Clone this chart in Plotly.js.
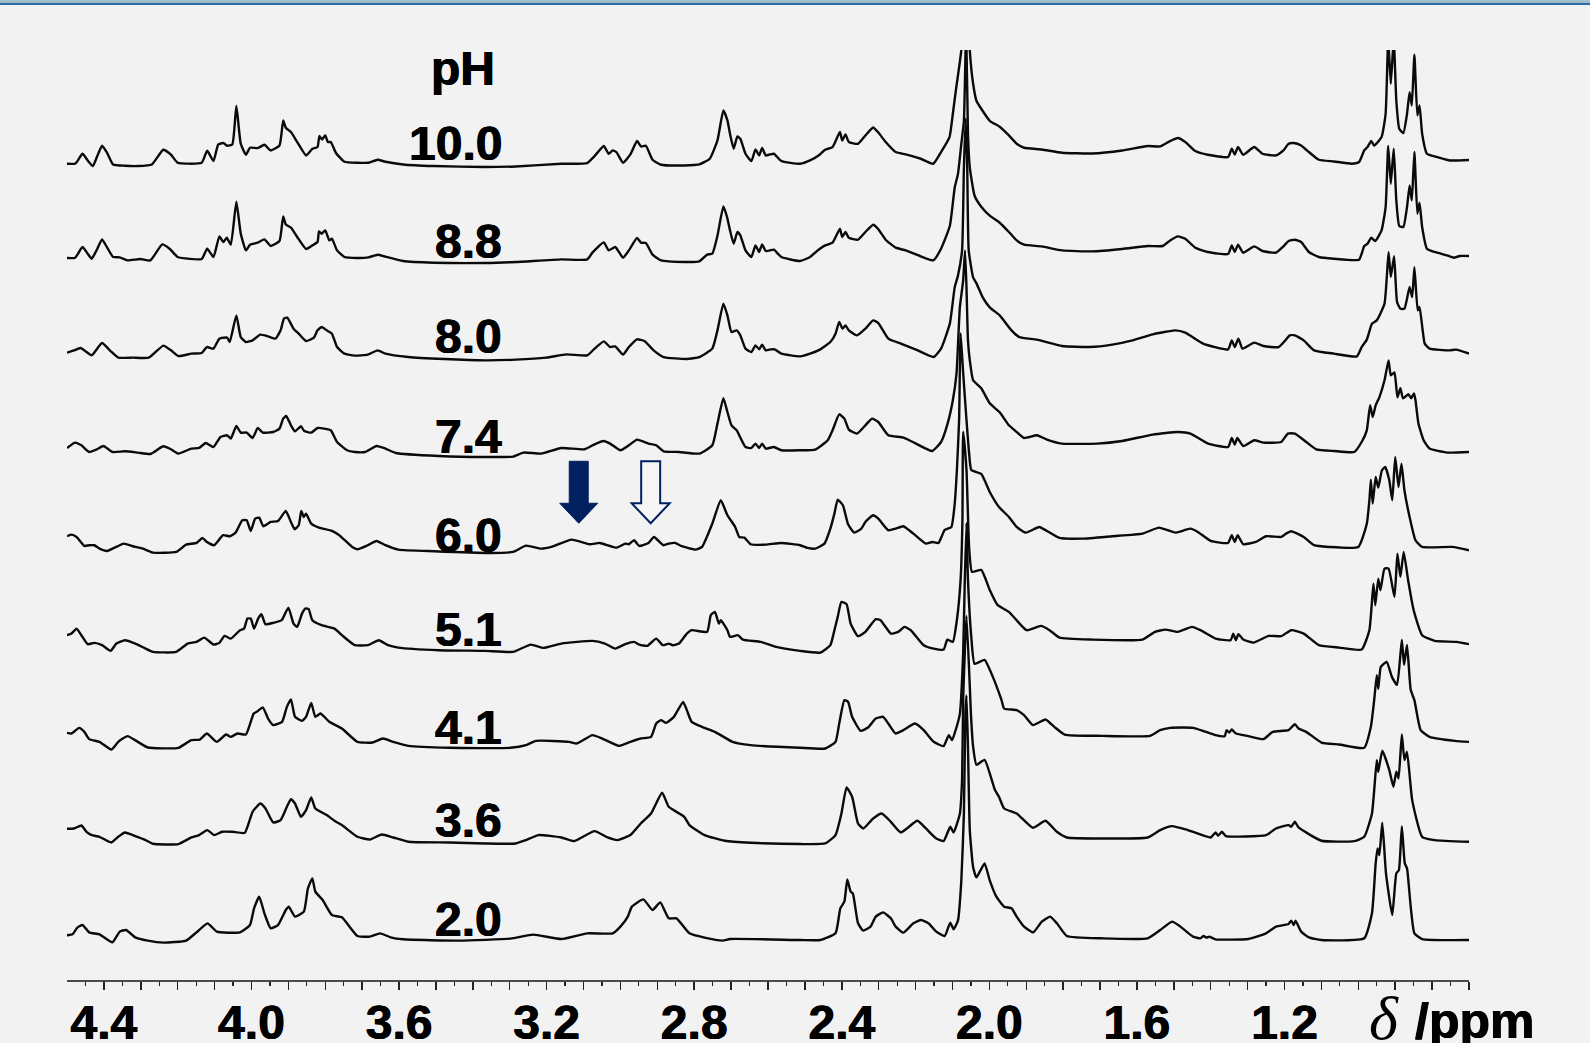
<!DOCTYPE html>
<html>
<head>
<meta charset="utf-8">
<script src="https://cdn.plot.ly/plotly-3.0.1.min.js"></script>
<style>
html,body{margin:0;padding:0;background:#f2f2f2;overflow:hidden}
#bar{position:absolute;left:0;top:0;width:1590px;height:5px;background:linear-gradient(to bottom,#a3c0ce 0,#9bbccb 55%,#2f6ba8 62%,#2f6ba8 100%);z-index:5}
#chart{position:absolute;left:0;top:0;width:1590px;height:1043px}
</style>
</head>
<body>
<div id="bar"></div>
<div id="chart"></div>
<script>
const phLabels = ['10.0','8.8','8.0','7.4','6.0','5.1','4.1','3.6','2.0'];
const offsets = [816.7,721.7,624,530,433.3,333.3,233.3,138.3,40.7];
const labelBase = [820,722,627,527,428,334,236,143,44];
const majorTicks = [4.4,4.3,4.2,4.1,4.0,3.9,3.8,3.7,3.6,3.5,3.4,3.3,3.2,3.1,3.0,2.9,2.8,2.7,2.6,2.5,2.4,2.3,2.2,2.1,2.0,1.9,1.8,1.7,1.6,1.5,1.4,1.3,1.2,1.1,1.0,0.9,0.8,0.7];
const minorTicks = [4.45,4.35,4.25,4.15,4.05,3.95,3.85,3.75,3.65,3.55,3.45,3.35,3.25,3.15,3.05,2.95,2.85,2.75,2.65,2.55,2.45,2.35,2.25,2.15,2.05,1.95,1.85,1.75,1.65,1.55,1.45,1.35,1.25,1.15,1.05,0.95,0.85,0.75];
const labelledTicks = ['4.4','4.0','3.6','3.2','2.8','2.4','2.0','1.6','1.2'];

const ppm_100 = [4.50,4.477,4.458,4.444,4.43,4.419,4.405,4.391,4.375,4.343,4.308,4.27,4.239,4.218,4.2,4.135,4.12,4.103,4.09,4.076,4.066,4.052,4.041,4.029,4.015,4.004,3.983,3.965,3.948,3.924,3.914,3.907,3.893,3.876,3.852,3.835,3.821,3.816,3.809,3.80,3.793,3.785,3.771,3.748,3.713,3.683,3.658,3.637,3.589,3.506,3.367,3.284,3.16,3.09,3.07,3.045,3.032,3.021,3.011,2.993,2.973,2.955,2.944,2.931,2.913,2.89,2.827,2.786,2.758,2.737,2.721,2.71,2.703,2.693,2.683,2.675,2.661,2.645,2.634,2.624,2.616,2.606,2.595,2.584,2.564,2.513,2.486,2.463,2.445,2.425,2.405,2.399,2.39,2.381,2.356,2.336,2.315,2.302,2.281,2.254,2.227,2.186,2.152,2.131,2.108,2.099,2.091,2.086,2.076,2.064,2.053,2.044,2.035,2.022,1.999,1.972,1.947,1.926,1.906,1.858,1.803,1.722,1.64,1.571,1.537,1.51,1.489,1.469,1.442,1.408,1.353,1.343,1.335,1.326,1.312,1.282,1.26,1.223,1.203,1.189,1.175,1.155,1.134,1.107,1.066,1.018,0.998,0.984,0.975,0.965,0.957,0.937,0.926,0.919,0.912,0.904,0.897,0.889,0.878,0.868,0.861,0.855,0.848,0.84,0.834,0.827,0.814,0.793,0.752,0.70];
const int_100 = [0,0.3,10,3.3,-2.3,6.7,18,10.7,-0.7,-2,-2.3,-0.7,14,9,1,1,13,2.7,19.3,20.7,18,19.3,57.7,20,9,16,15.7,19,13.3,18.3,43.3,36,31.7,21.7,8.3,15,16.7,27.7,24.3,28.3,21.7,21.7,10.7,2,1,1,4,2,-0.7,-2.3,-3.3,-2.7,0,0.7,7.7,17.7,10,13.3,11.7,1,9.3,22.7,17.3,18,4,-1,-1.7,-0.7,5,23.3,53.3,43.3,30,15,27.3,25,10,2.7,14.3,8.3,15.7,8.3,9.3,10,2.7,0,3.3,8.3,14,16.7,31.7,23.3,29.3,21.7,20,28.3,36.3,31.7,21.7,11.7,9.3,5,0,11.7,26.7,50,73,86,114,230,113,80,63,55,43,37,28.3,20,16,14.3,11,10.3,13.3,17.7,17.3,22.7,25.7,21.7,12.7,9,6.7,15,9.3,16.7,9,16.7,10,8.3,13.3,20,20.7,18.3,11.7,4,2.3,0,1.7,13.3,16.7,22.7,18.3,26.7,50,125,80,125,63,35,30.7,50,71.7,58.3,109,48.3,58.3,30,10,7.3,3.3,3.7];

const ppm_88 = [4.50,4.478,4.458,4.444,4.433,4.42,4.405,4.391,4.375,4.357,4.336,4.301,4.274,4.242,4.222,4.2,4.135,4.12,4.103,4.087,4.076,4.067,4.056,4.041,4.029,4.015,4.004,3.983,3.965,3.948,3.924,3.914,3.907,3.893,3.876,3.852,3.835,3.821,3.817,3.81,3.80,3.789,3.782,3.768,3.748,3.713,3.683,3.658,3.637,3.589,3.506,3.367,3.284,3.16,3.09,3.076,3.045,3.032,3.014,2.993,2.977,2.955,2.944,2.931,2.913,2.89,2.827,2.786,2.765,2.751,2.737,2.721,2.711,2.703,2.693,2.683,2.675,2.661,2.645,2.634,2.624,2.616,2.606,2.595,2.584,2.564,2.513,2.486,2.463,2.445,2.425,2.405,2.399,2.39,2.381,2.356,2.336,2.315,2.302,2.281,2.254,2.227,2.186,2.152,2.131,2.107,2.094,2.085,2.076,2.069,2.063,2.058,2.053,2.04,2.022,1.999,1.972,1.947,1.926,1.906,1.858,1.803,1.722,1.64,1.571,1.53,1.51,1.489,1.469,1.442,1.408,1.353,1.343,1.335,1.326,1.312,1.282,1.26,1.223,1.203,1.189,1.172,1.155,1.134,1.107,1.066,0.998,0.984,0.975,0.965,0.954,0.937,0.926,0.919,0.912,0.904,0.897,0.889,0.878,0.868,0.861,0.855,0.848,0.84,0.834,0.827,0.814,0.793,0.759,0.741,0.725,0.70];
const int_88 = [0.7,1,11.7,5,0,8.3,19.3,11,1.7,1.3,-1.7,-0.3,-1.7,14.3,10,1.7,-0.3,10,1.7,22.3,16.7,21,14,57,25,8.3,14,16,19.3,12.7,17.7,42.3,34.3,31,21.7,9.7,13.3,16.7,27.3,25,28.3,18.3,20,8.3,1.7,0.7,1.3,4,2,-2.3,-4,-4.3,-3.3,-0.7,-0.7,6,16.3,8.3,11.7,1,8.3,20.7,16,15.7,4,-1.7,-3.3,-2.7,4,5,23,52.3,41.7,28.3,15,26.7,23.3,8.3,1.7,13.3,6.7,14.3,7.7,8.3,9,1.7,-2.3,1.7,9,13.3,16,30,21.7,26.7,21,19,26.7,34,30,19,11,8.3,2.3,-1.7,10,33,71,85,115,138,230,125,91,63,52,43,36,26.7,18.3,14,12.3,8.3,7.3,9.7,12.7,12.7,18.3,22.3,20,11,6.7,4.7,13.3,6.7,14,6,12.3,7.7,6,12.3,17.7,19,16.7,6.7,1.7,0,-1,12.7,15,21,17.7,28.3,51.7,112.7,75,110,58.3,32.7,31.7,51.7,73.3,58.3,106.7,45,56,31.7,10,6.7,3.3,1,2.7,2.7];

const ppm_80 = [4.50,4.481,4.463,4.447,4.433,4.405,4.384,4.361,4.322,4.278,4.239,4.218,4.198,4.163,4.135,4.121,4.103,4.087,4.066,4.059,4.041,4.029,4.015,3.997,3.976,3.955,3.935,3.921,3.912,3.903,3.886,3.872,3.852,3.831,3.821,3.81,3.796,3.782,3.768,3.748,3.72,3.685,3.658,3.637,3.575,3.478,3.367,3.284,3.201,3.146,3.09,3.07,3.045,3.028,3.014,2.993,2.977,2.955,2.935,2.91,2.883,2.82,2.786,2.751,2.737,2.721,2.71,2.699,2.685,2.675,2.661,2.645,2.634,2.624,2.616,2.606,2.592,2.582,2.564,2.513,2.486,2.458,2.431,2.417,2.407,2.398,2.39,2.381,2.359,2.336,2.315,2.301,2.274,2.24,2.199,2.151,2.131,2.107,2.094,2.085,2.074,2.069,2.064,2.06,2.056,2.044,2.035,2.018,1.999,1.972,1.94,1.919,1.871,1.803,1.728,1.667,1.612,1.557,1.496,1.469,1.421,1.353,1.343,1.335,1.325,1.314,1.282,1.257,1.216,1.196,1.186,1.172,1.148,1.12,1.066,1.004,0.991,0.977,0.963,0.95,0.929,0.918,0.912,0.903,0.895,0.886,0.875,0.861,0.854,0.848,0.839,0.834,0.82,0.807,0.752,0.735,0.70];
const int_80 = [3.7,6,8.3,4.3,1,13.3,6,-1.3,-1.3,-1.3,10.7,6,0.3,2.7,3.3,9.3,7.7,17.7,18.7,14.3,41,19.3,14.3,16,21.7,20,17.7,26,37.7,38.7,27.7,22.7,15.3,18.7,26,29.3,26,22.7,9.3,2.7,0.7,1.7,6,2.7,-0.7,-2.7,-4,-3.3,-1.3,2,1,7.7,15,9.3,10,1.7,9.3,17,15.3,6,-0.7,-2.7,-0.7,7.7,26,52.7,41,24.3,26,21,7.7,4.3,11,7,11.7,6,7,7,2.7,0,2.7,7,14.3,22.7,34.3,27.7,31,26,21,27.7,36,33.3,17.7,12.7,6.7,-0.7,7.7,33,69,81,106,189,238,189,106,79,73,59,49,41,26,19.3,16.7,10.3,9.3,11.7,16,22,26,23.7,12.7,7,16,9.3,17.7,7.7,13.7,10.3,9.3,16.7,21,21,16,6,2.7,0,9.3,16.7,32.7,36,52.7,104.3,79.3,100.3,54.3,47.7,47.7,69.3,59.3,89.3,46,49.3,12.7,7.7,6,6.7,2.7];

const ppm_74 = [4.50,4.478,4.461,4.44,4.419,4.401,4.377,4.343,4.308,4.274,4.239,4.218,4.198,4.163,4.142,4.124,4.103,4.084,4.066,4.056,4.041,4.029,4.013,3.997,3.983,3.969,3.941,3.924,3.914,3.906,3.893,3.882,3.866,3.857,3.838,3.821,3.803,3.785,3.768,3.741,3.72,3.692,3.661,3.637,3.609,3.492,3.367,3.291,3.263,3.215,3.16,3.097,3.07,3.046,3.028,3,2.977,2.955,2.924,2.903,2.883,2.841,2.786,2.751,2.737,2.721,2.71,2.699,2.685,2.661,2.645,2.634,2.624,2.616,2.606,2.584,2.564,2.513,2.472,2.438,2.425,2.407,2.393,2.381,2.359,2.336,2.318,2.301,2.274,2.233,2.199,2.155,2.131,2.113,2.099,2.089,2.08,2.071,2.066,2.062,2.058,2.053,2.044,2.022,1.999,1.972,1.947,1.926,1.906,1.871,1.844,1.803,1.708,1.64,1.557,1.489,1.455,1.407,1.353,1.343,1.335,1.328,1.312,1.282,1.257,1.209,1.191,1.172,1.141,1.114,1.066,1.011,0.991,0.977,0.968,0.961,0.953,0.943,0.929,0.918,0.912,0.902,0.894,0.886,0.879,0.864,0.857,0.849,0.845,0.837,0.823,0.807,0.759,0.70];
const int_74 = [2.3,7.7,5,-1.7,1,4.3,-1.7,-1,-2.3,-3.7,4,1,-3.3,1.7,2.3,7.3,3.3,13.3,15,11.7,24.3,17.7,17.7,12.3,22.3,17.7,18.3,21.7,31.7,34.3,25,19,24,19.3,17.7,22.3,21.7,20,8.3,0,-1.7,-1.7,4.3,1.7,-2.7,-5.7,-6.7,-6.3,-2.3,-3.3,2.3,1,6,9.3,6.7,0,5,10.7,6.7,5,-1,-1.7,-3.3,5,26.7,52,38.3,25,20,3.3,2.3,6.7,2.3,6.7,1.7,3.3,0,0,0.7,10,20,36,31.7,20.7,16.7,25,31.7,28.3,15,12.7,6.7,-0.7,8.3,27,50,77,143,170,200,163,110,90,70,62,47,38,25,18.3,12.3,15,10.7,6.7,6.7,9.3,15.7,18.3,16.7,6.7,3.3,12.3,5.7,12.3,4.3,10,7.7,8.3,16.7,16.7,8.3,1,-0.7,-1.7,8.3,20,45,33.3,45,53,70,90,75,78,53,62,52,56,52,57,50,26.7,10,1.7,-2.3,-1.7];

const ppm_60 = [4.50,4.488,4.474,4.453,4.44,4.426,4.412,4.391,4.371,4.346,4.322,4.294,4.267,4.204,4.177,4.149,4.133,4.121,4.101,4.077,4.059,4.043,4.025,4.013,4.002,3.99,3.979,3.968,3.948,3.928,3.907,3.893,3.883,3.872,3.865,3.858,3.852,3.838,3.817,3.782,3.762,3.727,3.713,3.685,3.661,3.637,3.602,3.506,3.353,3.291,3.256,3.215,3.187,3.132,3.083,3.056,3.01,2.987,2.977,2.963,2.949,2.924,2.909,2.894,2.883,2.869,2.852,2.834,2.797,2.779,2.751,2.728,2.71,2.689,2.678,2.664,2.647,2.606,2.564,2.513,2.493,2.472,2.447,2.431,2.42,2.411,2.397,2.383,2.366,2.347,2.336,2.315,2.301,2.274,2.254,2.233,2.206,2.172,2.155,2.138,2.121,2.103,2.094,2.088,2.082,2.078,2.071,2.062,2.055,2.049,2.022,1.999,1.974,1.947,1.926,1.901,1.865,1.844,1.81,1.748,1.667,1.585,1.54,1.496,1.455,1.435,1.4,1.353,1.343,1.335,1.327,1.312,1.278,1.25,1.209,1.196,1.182,1.148,1.12,1.08,1.0,0.977,0.97,0.966,0.961,0.953,0.946,0.936,0.927,0.916,0.908,0.9,0.891,0.883,0.875,0.861,0.845,0.827,0.745,0.70];
const int_60 = [10.7,12.3,10,1,1.7,1.7,-1.7,-4,-0.7,3.3,0.7,-1.7,-5.7,-5,2.3,4,9,5,1.7,11.7,10.7,14.3,26.7,26.7,16,28.3,29.3,20.7,25,26,36,25,17.7,21.7,36,30,33.3,23.3,19.3,16,11.7,0,-2.3,1.7,6,1.7,-2.7,-4.3,-6,-5,1.3,-1.7,0,7.3,2.7,4,-0.7,3.3,2.7,6.7,1,4,10,5,1.7,3.3,4,0.7,-2.7,0,23.3,46.7,31.7,20,10,9.3,2.7,2.3,4,1.7,-1,-1.7,3.3,18.3,33.3,47.3,41.7,22.7,14.3,18.3,25,31.7,28.3,16.7,18.3,20.7,13.3,3.3,5,4,17,20,43,77,127,213.7,174,127,94,77,73,55,40,30,20,14.3,20,16,9,8.3,10.7,13.3,19.3,14.3,18.3,15,6,4,11.7,5,11.7,2.7,5,10.7,10,13.3,15.7,10,1.7,0,0,23.3,46.7,67.3,43.3,70,59.3,76.7,80,66.7,46.7,90,60,83.3,56.7,30,6.7,0,0,-3.3];

const ppm_51 = [4.50,4.488,4.474,4.461,4.444,4.426,4.405,4.382,4.366,4.343,4.315,4.287,4.267,4.204,4.173,4.149,4.128,4.103,4.087,4.073,4.056,4.031,4.02,4.011,4.002,3.993,3.982,3.973,3.962,3.941,3.918,3.9,3.886,3.876,3.863,3.854,3.845,3.835,3.81,3.775,3.755,3.72,3.685,3.655,3.63,3.602,3.492,3.367,3.291,3.243,3.208,3.16,3.076,3.042,3.014,2.987,2.963,2.949,2.927,2.903,2.885,2.869,2.858,2.841,2.82,2.807,2.765,2.755,2.744,2.733,2.728,2.71,2.703,2.682,2.668,2.62,2.578,2.513,2.458,2.431,2.42,2.411,2.401,2.387,2.376,2.356,2.336,2.308,2.295,2.267,2.247,2.23,2.213,2.178,2.151,2.124,2.114,2.099,2.088,2.078,2.073,2.071,2.062,2.055,2.047,2.022,1.999,1.978,1.947,1.899,1.86,1.837,1.81,1.721,1.585,1.551,1.523,1.489,1.451,1.428,1.387,1.346,1.339,1.332,1.325,1.312,1.284,1.243,1.209,1.182,1.148,1.107,1.052,0.991,0.97,0.959,0.954,0.946,0.94,0.929,0.918,0.902,0.894,0.886,0.877,0.865,0.85,0.827,0.793,0.734,0.70];
const int_51 = [11.7,13.3,18.3,11.7,2.7,4,1.7,-4,3.3,6.7,3.3,-1.7,-5,-5,3.3,5,9.3,2.3,4,11,8.3,16.7,18.3,28.3,28.3,18.3,28.3,32.7,22.7,24,26.7,39.3,23.3,20,33.3,38.3,37.7,26.7,21.7,18.3,11.7,1.7,1.7,6.7,1.7,-0.7,-3.3,-4,-5,2.3,-1,3.3,6,3.3,-1.7,2.7,5,2.3,1,8.3,1.7,3.3,1.7,3.3,13.3,16.7,15,31.7,35,23.3,26.7,16.7,10,11.7,7.3,5,0,-4,-5.7,1.7,16.7,30,45,42.7,23.3,10.7,15,27.7,26.7,13.3,15,20,16.7,1.7,-1.7,-2.7,7.3,5,27,67,127,215,177,100,75,77,57,42,35,16.7,21,16.7,9.3,7.3,7.3,15,17.3,15,20,16.7,8.3,6.7,13.3,6.7,12.7,7.3,4.3,11,10.7,16.7,13.3,1.7,-0.7,-2.7,16.7,63.3,41.7,68.3,56.7,78.3,78.3,50,93.3,70,95,66.7,36.7,11.7,6,5,2.7];

const ppm_41 = [4.50,4.488,4.467,4.453,4.44,4.412,4.38,4.361,4.336,4.308,4.281,4.198,4.163,4.14,4.121,4.094,4.069,4.056,4.038,4.015,3.994,3.986,3.969,3.955,3.941,3.917,3.904,3.893,3.882,3.863,3.852,3.838,3.827,3.813,3.789,3.755,3.713,3.672,3.644,3.616,3.575,3.464,3.298,3.256,3.229,3.139,3.118,3.076,3.049,3.004,2.973,2.945,2.917,2.903,2.89,2.876,2.855,2.83,2.82,2.807,2.779,2.744,2.696,2.647,2.513,2.445,2.417,2.407,2.393,2.383,2.372,2.349,2.329,2.308,2.288,2.274,2.254,2.233,2.202,2.178,2.151,2.124,2.11,2.101,2.094,2.08,2.071,2.067,2.062,2.058,2.049,2.04,2.013,1.994,1.967,1.96,1.926,1.906,1.882,1.848,1.824,1.796,1.694,1.564,1.537,1.51,1.448,1.421,1.387,1.362,1.357,1.35,1.343,1.332,1.298,1.257,1.232,1.189,1.172,1.162,1.141,1.1,1.052,0.984,0.966,0.957,0.95,0.946,0.939,0.923,0.909,0.895,0.882,0.876,0.868,0.858,0.848,0.831,0.807,0.738,0.70];
const int_41 = [14,13.3,19,15,7.7,5,-2.7,5,10.7,5,-0.7,-1,6.7,7.3,13.3,5,12.3,10,13.3,12.3,33.3,35,39.3,28.3,21.7,25,40,47.5,30,26,30,44,30,33.3,25,18.3,5,4.3,8.3,5,1,-1,-1,1.7,6,5,3.3,11.7,8.3,1,5,8.3,10,23.3,26.7,24,30,45,36.7,25,20,15,5,1.7,-1,-1.7,5,23.3,46.7,45,30,16,19.3,28.3,30,23.3,13.3,16.7,23.3,16.7,5,0.7,11.7,6.7,13.7,33,94,160,224,167,110,83,87,73,46.7,38.3,36.7,31.7,21.7,27.3,20,12.3,11,11,16.7,19,19,16,11.7,10.7,16.7,14.3,17.3,13.3,10.7,7.7,15,16.7,22.7,18.3,15,4.3,2.3,-1,20,46.7,71.7,58,80,85,70,62,107,82,102,57,46.7,16.7,10,6,5];

const ppm_36 = [4.50,4.481,4.461,4.447,4.433,4.412,4.38,4.361,4.343,4.315,4.287,4.267,4.198,4.163,4.142,4.12,4.101,4.08,4.052,4.018,3.997,3.976,3.962,3.941,3.921,3.904,3.893,3.882,3.866,3.852,3.838,3.827,3.796,3.775,3.755,3.713,3.679,3.647,3.616,3.575,3.464,3.367,3.284,3.256,3.222,3.16,3.125,3.07,3.035,3.007,2.973,2.945,2.917,2.887,2.869,2.827,2.813,2.772,2.717,2.647,2.513,2.445,2.417,2.401,2.387,2.372,2.356,2.342,2.315,2.292,2.267,2.24,2.195,2.172,2.144,2.124,2.106,2.097,2.08,2.074,2.071,2.062,2.053,2.05,2.044,2.035,2.013,1.985,1.974,1.96,1.926,1.882,1.848,1.817,1.79,1.694,1.571,1.537,1.505,1.462,1.4,1.387,1.38,1.37,1.359,1.25,1.223,1.189,1.182,1.172,1.162,1.1,1.011,0.984,0.963,0.95,0.946,0.935,0.916,0.905,0.897,0.891,0.882,0.875,0.868,0.854,0.827,0.793,0.70];
const int_36 = [13,13.3,16.3,10,6.7,5,-0.7,5,9.3,5.7,1.7,-2,-2.3,4.3,6.7,11.7,6.7,10,10,9,30,38.3,33.3,19.3,21.7,35,42.7,38.3,25,31.7,44.3,33.3,26.7,21,16.7,5,2.3,7.3,4.3,0,-0.7,-1.7,-1.7,1.7,6.7,4.3,0.7,10.7,4.3,1.7,6.7,18.3,28.3,49,35,25,16.7,6.7,1,-1,-2.3,-1.7,6.7,28.3,54.3,45,18.3,13.3,23.3,28.3,20,9.3,21,13.3,3.3,0.7,15,9.3,28,62,142,226,155,128,95,77,82,52,45,33.3,28.3,14,21,10,4.3,3.3,4.3,11.7,15.7,11.7,4.3,9.3,6,10,5.7,6.7,13.3,16.7,15,20,14.3,1,0.7,5,28.3,81.7,70,91,71.7,55,70,63.3,107.3,81.7,90,41.7,5,1.7,0];

const ppm_20 = [4.50,4.485,4.472,4.458,4.44,4.412,4.377,4.357,4.34,4.315,4.281,4.239,4.177,4.149,4.119,4.094,4.031,4.004,3.993,3.979,3.965,3.948,3.928,3.907,3.899,3.882,3.858,3.847,3.835,3.827,3.807,3.782,3.755,3.713,3.679,3.651,3.623,3.589,3.436,3.298,3.236,3.16,3.09,3.021,3,2.98,2.969,2.938,2.913,2.892,2.869,2.848,2.813,2.772,2.723,2.703,2.513,2.458,2.417,2.404,2.393,2.385,2.376,2.37,2.356,2.342,2.322,2.308,2.288,2.267,2.254,2.233,2.206,2.185,2.165,2.144,2.121,2.106,2.097,2.085,2.076,2.069,2.065,2.062,2.058,2.053,2.044,2.035,2.013,1.999,1.981,1.96,1.94,1.926,1.906,1.881,1.858,1.835,1.817,1.79,1.694,1.571,1.537,1.505,1.482,1.448,1.428,1.42,1.411,1.404,1.387,1.298,1.25,1.223,1.189,1.182,1.175,1.17,1.155,1.134,1.1,0.984,0.963,0.953,0.948,0.943,0.935,0.925,0.908,0.897,0.89,0.882,0.874,0.868,0.858,0.848,0.827,0.70];
const int_20 = [4,5,11.7,14.3,7,5,-3,7.7,9.3,2,-1.3,-3.3,-1.3,7,16,7.7,7,14.3,31,42.7,26,11,14.3,29.3,32.7,22.7,27.7,51,61,47.7,39.3,24.3,22,3.3,2.7,6,2,0,-1.3,0.7,4.7,0.3,6,6,12.7,22.7,32.7,40,29.3,37,21,21,6,1.7,-1.3,0.3,-0.7,-0.7,6,31,37.7,60,47.7,46,16,8.7,12.7,22.7,27,21,12.7,6.7,16,19.3,16,7.7,3.3,16.7,10,19,59,126,226,244,192,109,72,62,76,59,42.7,32.7,31,22.7,12.7,7,17.7,22.7,16,3.3,1,1,9.3,17.7,12.7,2.7,1,3.3,1.7,2.7,0,0.3,6,12.7,15.3,18.7,14.3,18.7,7.7,2,-0.7,1,26,76,91,84.3,116.7,66,24.3,66,69.3,113,76,71,32.7,6,0.3,-0.7];

const allPpm = [ppm_100,ppm_88,ppm_80,ppm_74,ppm_60,ppm_51,ppm_41,ppm_36,ppm_20];
const allInt = [int_100,int_88,int_80,int_74,int_60,int_51,int_41,int_36,int_20];

const traces = allPpm.map((xs,i)=>({
  type:'scatter',mode:'lines',x:xs,y:allInt[i].map(v=>v+offsets[i]),
  line:{color:'#0a0a0a',width:2.4,shape:'spline',smoothing:0.45,simplify:false},hoverinfo:'skip',showlegend:false
}));

const heavy = '0.5px 0 0 #000, -0.5px 0 0 #000';
const bold = {family:'"Liberation Sans",Arial,sans-serif',size:48,color:'#000',weight:700,shadow:heavy};
const labelPpm = 3.318;
const annotations = phLabels.map((t,i)=>({
  text:t,x:labelPpm,y:labelBase[i],xref:'x',yref:'y',xanchor:'right',yanchor:'bottom',
  showarrow:false,font:bold,yshift:-11,borderpad:0
}));
annotations.push({text:'pH',x:3.336,y:895,xref:'x',yref:'y',xanchor:'right',yanchor:'bottom',showarrow:false,font:bold,yshift:-11,borderpad:0});
annotations.push({text:'δ',x:0.975,y:-0.0623,xref:'x',yref:'paper',xanchor:'left',yanchor:'bottom',showarrow:false,
  font:{family:'"Liberation Serif",serif',size:62,color:'#000',style:'italic'},yshift:-15,borderpad:0,xshift:0});
annotations.push({text:'/ppm',x:0.85,y:-0.0623,xref:'x',yref:'paper',xanchor:'left',yanchor:'bottom',showarrow:false,
  font:Object.assign({},bold,{size:50}),yshift:-12,borderpad:0,xshift:0});

function arrowPath(c,hw,hh,top,neck,tip){
  return `M${c-hw},${top} L${c+hw},${top} L${c+hw},${neck} L${c+hh},${neck} L${c},${tip} L${c-hh},${neck} L${c-hw},${neck} Z`;
}
const arrowFilledPpm = 3.113, arrowHollowPpm = 2.918;
const shapes = [
  {type:'path',xref:'x',yref:'y',path:arrowPath(arrowFilledPpm,0.0257,0.0515,519,477,457),fillcolor:'#002060',line:{color:'#002060',width:1}},
  {type:'path',xref:'x',yref:'y',path:arrowPath(arrowHollowPpm,0.0257,0.0515,519,477,457),fillcolor:'#f6f6f6',line:{color:'#002060',width:2}}
];

const layout = {
  width:1590,height:1043,paper_bgcolor:'#f2f2f2',plot_bgcolor:'#f2f2f2',
  margin:{l:67,r:121,t:49.5,b:63,pad:0},showlegend:false,
  xaxis:{range:[4.5,0.7],showgrid:false,zeroline:false,showline:true,linecolor:'#4a4a4a',linewidth:2,
    tickmode:'array',tickvals:majorTicks,
    ticktext:majorTicks.map(v=>{const s=v.toFixed(1);return labelledTicks.includes(s)?s:'';}),
    ticks:'outside',ticklen:8,tickwidth:1.5,tickcolor:'#222',tickfont:bold,tickangle:0,ticklabelstandoff:-9,
    minor:{tickmode:'array',tickvals:minorTicks,ticks:'outside',ticklen:4,tickwidth:1.2,tickcolor:'#222',showgrid:false}
  },
  yaxis:{range:[0,930.5],visible:false,fixedrange:true},
  annotations,shapes
};
Plotly.newPlot('chart',traces,layout,{displayModeBar:false,staticPlot:true});
</script>
</body>
</html>
